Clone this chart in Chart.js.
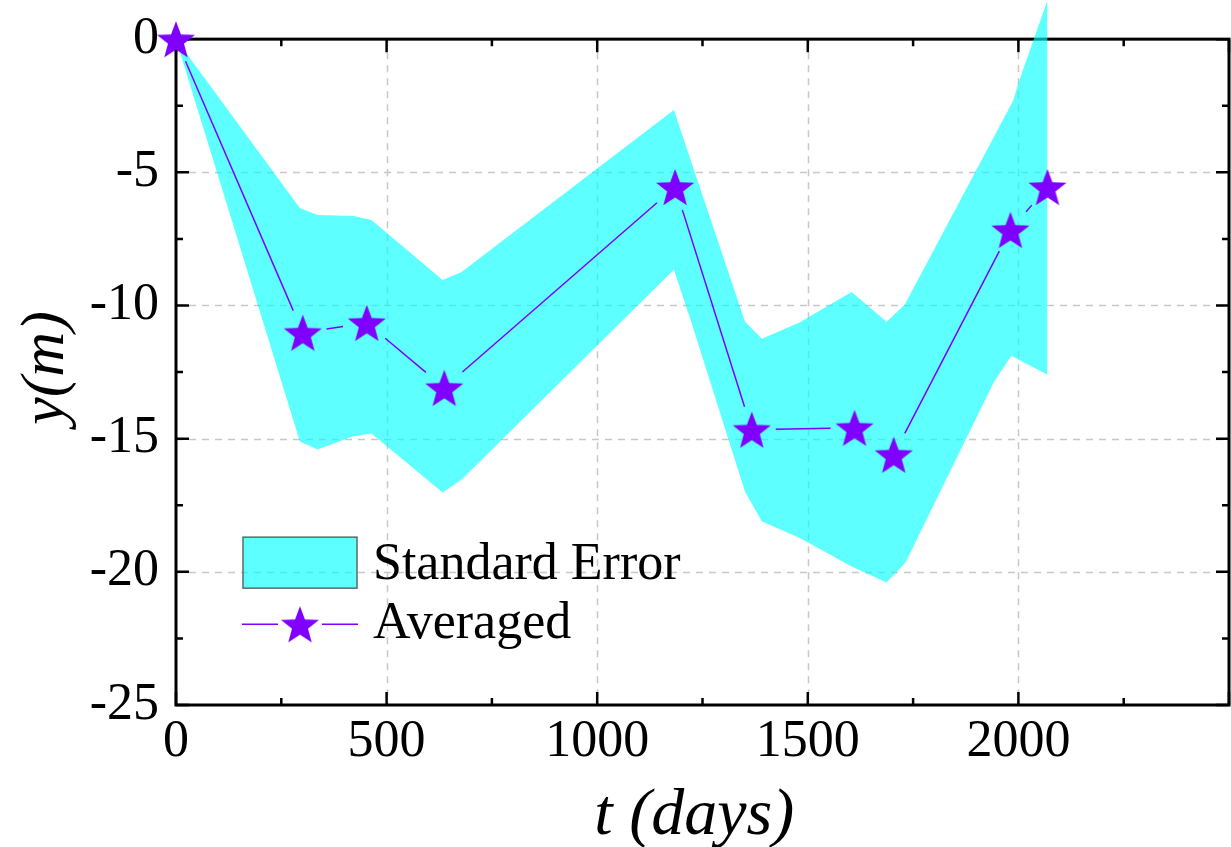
<!DOCTYPE html>
<html>
<head>
<meta charset="utf-8">
<script src="https://cdn.jsdelivr.net/npm/chart.js@4/dist/chart.umd.min.js"></script>
<style>
  body { margin: 0; background: #fff; }
  #wrap { width: 1231px; height: 847px; }
</style>
</head>
<body>
<div id="wrap"><canvas id="chart" width="1231" height="847"></canvas></div>
<script>
// averaged curve
const tDays = [0, 301, 453, 637, 1185, 1367, 1611, 1704, 1981, 2069];
const yAvg = [0, -11.02, -10.65, -13.09, -5.55, -14.66, -14.59, -15.60, -7.16, -5.55];

// standard error band edges
const upperT = [0, 294, 336, 422, 464, 633, 678, 1182, 1351, 1391, 1479, 1604, 1687, 1730, 1988, 2000, 2069];
const upperY = [0, -6.34, -6.60, -6.64, -6.79, -9.04, -8.74, -2.66, -10.61, -11.25, -10.65, -9.49, -10.61, -9.97, -2.29, -1.65, 1.46];
const lowerT = [0, 294, 336, 419, 464, 633, 678, 1182, 1225, 1351, 1391, 1479, 1604, 1687, 1732, 1941, 1983, 2069];
const lowerY = [0, -15.11, -15.41, -14.92, -14.81, -17.02, -16.53, -8.66, -10.7, -16.99, -18.11, -18.71, -19.80, -20.40, -19.65, -12.90, -11.89, -12.60];

// axis ticks (majors are labelled, minors halfway between)
const xMajor = [0, 500, 1000, 1500, 2000, 2500];
const yMajor = [0, -5, -10, -15, -20, -25];
const xTicks = [0, 250, 500, 750, 1000, 1250, 1500, 1750, 2000, 2250, 2500];
const yTicks = [0, -2.5, -5, -7.5, -10, -12.5, -15, -17.5, -20, -22.5, -25];

const purple = "#8000ff";
const bandColor = "rgba(0,255,255,0.63)";
const serif = "'Liberation Serif', 'Times New Roman', serif";
const GAP = 24; // line stops short of the markers

// filled five point star used as marker
function makeStar(r) {
  const c = document.createElement("canvas");
  const s = Math.ceil(r * 2 + 2);
  c.width = s; c.height = s;
  const g = c.getContext("2d");
  g.translate(s / 2, s / 2 + r * 0.1);
  g.beginPath();
  for (let i = 0; i < 10; i++) {
    const rad = i % 2 === 0 ? r : r * 0.42;
    const a = -Math.PI / 2 + i * Math.PI / 5;
    g.lineTo(Math.cos(a) * rad, Math.sin(a) * rad);
  }
  g.closePath();
  g.fillStyle = purple;
  g.fill();
  return c;
}
const star = makeStar(20);

const toPts = (xs, ys) => xs.map((x, i) => ({ x: x, y: ys[i] }));
const segLen = c => Math.hypot(c.p1.x - c.p0.x, c.p1.y - c.p0.y);

// frame, dashed grid and inward ticks
const framePlugin = {
  id: "frame",
  beforeDatasetsDraw(chart) {
    const { ctx, chartArea: a, scales } = chart;
    const xs = scales.x, ys = scales.y;
    const top = ys.getPixelForValue(0), bottom = ys.getPixelForValue(-25);
    ctx.save();
    ctx.strokeStyle = "#c8c8c8";
    ctx.lineWidth = 1.5;
    ctx.setLineDash([7, 6]);
    xMajor.slice(1, -1).forEach(v => {
      const px = Math.round(xs.getPixelForValue(v)) + 0.5;
      ctx.beginPath(); ctx.moveTo(px, top); ctx.lineTo(px, bottom); ctx.stroke();
    });
    yMajor.slice(1, -1).forEach(v => {
      const py = Math.round(ys.getPixelForValue(v)) + 0.5;
      ctx.beginPath(); ctx.moveTo(a.left, py); ctx.lineTo(a.right, py); ctx.stroke();
    });
    ctx.setLineDash([]);
    ctx.strokeStyle = "#000";
    ctx.lineWidth = 3;
    ctx.strokeRect(a.left, top, a.right - a.left, bottom - top);
    ctx.lineWidth = 2.5;
    xTicks.forEach(v => {
      const len = xMajor.includes(v) ? 13 : 7;
      const px = xs.getPixelForValue(v);
      ctx.beginPath();
      ctx.moveTo(px, bottom); ctx.lineTo(px, bottom - len);
      ctx.moveTo(px, top); ctx.lineTo(px, top + len);
      ctx.stroke();
    });
    yTicks.forEach(v => {
      const len = yMajor.includes(v) ? 13 : 7;
      const py = ys.getPixelForValue(v);
      ctx.beginPath();
      ctx.moveTo(a.left, py); ctx.lineTo(a.left + len, py);
      ctx.moveTo(a.right, py); ctx.lineTo(a.right - len, py);
      ctx.stroke();
    });
    ctx.restore();
  },
  afterDraw(chart) {
    // legend inside the plot
    const { ctx, chartArea: a, scales } = chart;
    const lx = a.left + 67, ly = scales.y.getPixelForValue(0) + 498;
    ctx.save();
    ctx.fillStyle = bandColor;
    ctx.fillRect(lx, ly, 114, 51);
    ctx.strokeStyle = "#5a6a6a";
    ctx.lineWidth = 1.5;
    ctx.strokeRect(lx, ly, 114, 51);
    ctx.strokeStyle = purple;
    ctx.lineWidth = 1.5;
    ctx.beginPath();
    ctx.moveTo(lx - 1, ly + 87); ctx.lineTo(lx + 35, ly + 87);
    ctx.moveTo(lx + 79, ly + 87); ctx.lineTo(lx + 115, ly + 87);
    ctx.stroke();
    ctx.drawImage(star, lx + 57 - star.width / 2, ly + 87 - star.height / 2);
    ctx.fillStyle = "#000";
    ctx.font = "52px " + serif;
    ctx.textBaseline = "alphabetic";
    ctx.fillText(chart.data.datasets[0].label, lx + 130, ly + 42);
    ctx.fillText(chart.data.datasets[2].label, lx + 130, ly + 101);
    ctx.restore();
  }
};

new Chart(document.getElementById("chart"), {
  type: "line",
  data: {
    datasets: [
      {
        label: "Standard Error",
        data: toPts(upperT, upperY),
        borderWidth: 0,
        pointRadius: 0,
        backgroundColor: bandColor,
        fill: "+1",
        clip: false,
        order: 2
      },
      {
        label: "lower",
        data: toPts(lowerT, lowerY),
        borderWidth: 0,
        pointRadius: 0,
        fill: false,
        clip: false,
        order: 2
      },
      {
        label: "Averaged",
        data: toPts(tDays, yAvg),
        borderColor: purple,
        borderWidth: 1.5,
        pointStyle: star,
        pointRadius: 20,
        fill: false,
        clip: false,
        order: 1,
        segment: {
          borderDash: c => {
            const L = segLen(c);
            return L > 2 * GAP ? [L - 2 * GAP, 2 * GAP] : [0, L + 10];
          },
          borderDashOffset: c => {
            const L = segLen(c);
            return L > 2 * GAP ? L - GAP : 0;
          }
        }
      }
    ]
  },
  options: {
    responsive: false,
    animation: false,
    devicePixelRatio: 1,
    layout: { autoPadding: false, padding: { top: 0, right: 2, left: 0, bottom: 0 } },
    plugins: { legend: { display: false }, tooltip: { enabled: false } },
    scales: {
      x: {
        type: "linear",
        min: 0, max: 2500,
        grid: { display: false, drawTicks: false },
        border: { display: false },
        afterBuildTicks: s => { s.ticks = xTicks.map(v => ({ value: v })); },
        ticks: {
          autoSkip: false,
          maxRotation: 0,
          padding: 6,
          color: "#000",
          font: { family: serif, size: 52 },
          callback: v => (xMajor.includes(v) && v < 2500) ? String(v) : ""
        },
        title: {
          display: true,
          text: "t (days) ",
          color: "#000",
          padding: { top: 0, bottom: 0 },
          font: { family: serif, size: 66, style: "italic", lineHeight: 0.93 }
        },
        afterFit: s => {
          s.height = 142;
          s.paddingLeft = 0; s.paddingRight = 0;
        }
      },
      y: {
        min: -25, max: 1.47,
        grid: { display: false, drawTicks: false },
        border: { display: false },
        afterBuildTicks: s => { s.ticks = yTicks.slice().reverse().map(v => ({ value: v })); },
        ticks: {
          autoSkip: false,
          padding: 17,
          color: "#000",
          font: { family: serif, size: 52 },
          callback: v => yMajor.includes(v) ? String(v) : ""
        },
        title: {
          display: true,
          text: "y(m)  ",
          color: "#000",
          padding: { top: 10, bottom: 0 },
          font: { family: serif, size: 62, style: "italic" }
        },
        afterFit: s => {
          s.width = 176;
          s.paddingTop = 0; s.paddingBottom = 0;
        }
      }
    }
  },
  plugins: [framePlugin]
});
</script>
</body>
</html>
